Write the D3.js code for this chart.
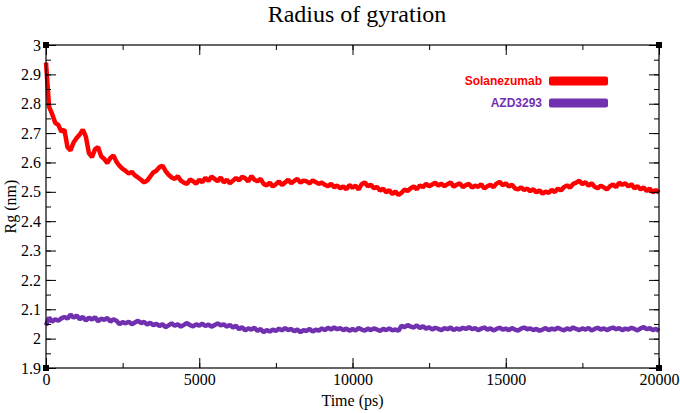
<!DOCTYPE html>
<html>
<head>
<meta charset="utf-8">
<script src="https://cdn.jsdelivr.net/npm/d3@7"></script>
<style>
  body { margin: 0; background: #fff; }
  svg { display: block; }
  .tick text { font-family: "Liberation Serif", "Times New Roman", serif; font-size: 16px; fill: #000; }
  .tick line { stroke: #000; stroke-width: 1; }
  .axis-label { font-family: "Liberation Serif", "Times New Roman", serif; font-size: 16px; fill: #000; }
  .chart-title { font-family: "Liberation Serif", "Times New Roman", serif; font-size: 24px; fill: #000; }
  .legend-label { font-family: "Liberation Sans", Arial, sans-serif; font-size: 12px; font-weight: bold; }
</style>
</head>
<body>
<svg id="chart" width="680" height="413"></svg>
<script>
// Rg 随时间变化：两条轨迹，每 100 ps 取一个读数

const timeStep = 100; // ps
const xTicks = [0, 5000, 10000, 15000, 20000];
const yTicks = [1.9, 2, 2.1, 2.2, 2.3, 2.4, 2.5, 2.6, 2.7, 2.8, 2.9, 3];

const seriesNames = ['Solanezumab', 'AZD3293'];
const seriesColors = ['#ff0000', '#7030b0'];

const solanezumabRg = [
  2.94, 2.79, 2.765, 2.735, 2.728, 2.705, 2.712, 2.652, 2.641, 2.668,
  2.683, 2.695, 2.712, 2.688, 2.632, 2.618, 2.645, 2.652, 2.621, 2.612,
  2.598, 2.615, 2.624, 2.602, 2.588, 2.578, 2.571, 2.562, 2.568, 2.556,
  2.549, 2.541, 2.532, 2.538, 2.552, 2.566, 2.572, 2.584, 2.589, 2.571,
  2.558, 2.549, 2.544, 2.553, 2.538, 2.531, 2.527, 2.542, 2.536, 2.528,
  2.541, 2.533, 2.548, 2.537, 2.552, 2.544, 2.536, 2.549, 2.532, 2.541,
  2.529, 2.538, 2.547, 2.539, 2.551, 2.546, 2.535, 2.554, 2.541, 2.536,
  2.544, 2.527, 2.522, 2.531, 2.518, 2.526, 2.535, 2.523, 2.532, 2.541,
  2.529, 2.537, 2.544, 2.531, 2.538, 2.536, 2.529, 2.539, 2.533, 2.527,
  2.531, 2.524, 2.519, 2.527, 2.516, 2.521, 2.512, 2.518, 2.509, 2.523,
  2.514, 2.521, 2.508, 2.526, 2.532, 2.519, 2.524, 2.512, 2.517, 2.504,
  2.511, 2.498, 2.506, 2.492, 2.501, 2.489, 2.497, 2.508, 2.503, 2.512,
  2.518, 2.509, 2.522, 2.516, 2.527, 2.519, 2.525, 2.531, 2.521, 2.528,
  2.519, 2.526, 2.532, 2.518, 2.524, 2.529, 2.516, 2.523, 2.527, 2.514,
  2.521, 2.517, 2.526, 2.511, 2.519, 2.524, 2.516, 2.528, 2.534, 2.522,
  2.529, 2.518, 2.524, 2.512, 2.508, 2.515, 2.506, 2.511, 2.502, 2.509,
  2.498, 2.505, 2.494, 2.501, 2.496, 2.507, 2.499, 2.511, 2.505, 2.516,
  2.522, 2.514, 2.527, 2.531, 2.538, 2.526, 2.533, 2.521, 2.529, 2.517,
  2.512, 2.521, 2.515, 2.508, 2.519, 2.525, 2.516, 2.531, 2.524, 2.529,
  2.518, 2.526, 2.512, 2.519, 2.508, 2.515, 2.503, 2.511, 2.498, 2.506, 2.497,
];

const azd3293Rg = [
  2.045, 2.072, 2.058, 2.066, 2.061, 2.069, 2.074, 2.068, 2.082, 2.071,
  2.079, 2.066, 2.074, 2.062, 2.071, 2.065, 2.073, 2.059, 2.068, 2.064,
  2.071, 2.058, 2.066, 2.061, 2.049, 2.056, 2.052, 2.058, 2.049, 2.055,
  2.061, 2.053, 2.057, 2.048, 2.054, 2.046, 2.051, 2.043, 2.049, 2.039,
  2.045, 2.052, 2.044, 2.049, 2.041, 2.047, 2.053, 2.046, 2.042, 2.049,
  2.044, 2.051, 2.043, 2.048, 2.041, 2.046, 2.052, 2.045, 2.049, 2.041,
  2.047, 2.038, 2.044, 2.032, 2.039, 2.028, 2.035, 2.031, 2.037, 2.026,
  2.033, 2.022, 2.029, 2.024, 2.031, 2.026, 2.034, 2.028, 2.036, 2.029,
  2.033, 2.025, 2.031, 2.022, 2.029, 2.026, 2.033, 2.024, 2.031, 2.027,
  2.035, 2.029, 2.037, 2.031, 2.038, 2.032, 2.036, 2.029, 2.034, 2.027,
  2.033, 2.028, 2.036, 2.031, 2.027, 2.034, 2.029, 2.035, 2.031, 2.026,
  2.033, 2.029, 2.035, 2.028, 2.031, 2.027, 2.044, 2.039, 2.046, 2.041,
  2.038, 2.045, 2.036, 2.042, 2.034, 2.039, 2.031, 2.037, 2.033, 2.029,
  2.036, 2.032, 2.038, 2.029, 2.035, 2.031, 2.037, 2.033, 2.039, 2.032,
  2.036, 2.029, 2.034, 2.038, 2.031, 2.035, 2.028, 2.033, 2.037, 2.031,
  2.034, 2.029, 2.036, 2.031, 2.027, 2.034, 2.038, 2.032, 2.035, 2.029,
  2.033, 2.027, 2.031, 2.036, 2.029, 2.034, 2.031, 2.037, 2.032, 2.028,
  2.035, 2.031, 2.038, 2.033, 2.029, 2.035, 2.031, 2.036, 2.028, 2.033,
  2.037, 2.031, 2.035, 2.029, 2.034, 2.038, 2.032, 2.036, 2.029, 2.034,
  2.031, 2.037, 2.033, 2.028, 2.035, 2.039, 2.032, 2.036, 2.029, 2.033, 2.026,
];

const margin = { top: 45, right: 21, bottom: 45, left: 46 };
const svg = d3.select('#chart');
const width = +svg.attr('width') - margin.left - margin.right;
const height = +svg.attr('height') - margin.top - margin.bottom;

const xScale = d3.scaleLinear().domain([0, 20000]).range([0, width]);
const yScale = d3.scaleLinear().domain([1.9, 3]).range([height, 0]);

const g = svg.append('g').attr('transform', `translate(${margin.left},${margin.top})`);

// 数据线：原图轨迹很密，用较粗的线模拟那条“带子”
const line = d3.line()
  .x((d, i) => xScale(i * timeStep))
  .y((d) => yScale(d));

[solanezumabRg, azd3293Rg].forEach((values, i) => {
  g.append('path')
    .datum(values)
    .attr('fill', 'none')
    .attr('stroke', seriesColors[i])
    .attr('stroke-width', 4.5)
    .attr('stroke-linejoin', 'bevel')
    .attr('d', line);
});

// 坐标轴：刻度朝内，四边都有，另配次刻度
const xMinor = d3.range(0, 20001, 2500);
const yMinor = d3.range(0, 23).map((k) => 1.9 + k * 0.05);

function styleAxis(sel) {
  sel.select('.domain').remove();
}

g.append('g')
  .attr('transform', `translate(0,${height})`)
  .call(d3.axisBottom(xScale).tickValues(xMinor).tickSize(-5).tickFormat(''))
  .call(styleAxis);
g.append('g')
  .attr('transform', `translate(0,${height})`)
  .call(d3.axisBottom(xScale).tickValues(xTicks).tickSize(-10).tickPadding(6).tickFormat(d3.format('d')))
  .call(styleAxis);

g.append('g')
  .call(d3.axisTop(xScale).tickValues(xMinor).tickSize(-5).tickFormat(''))
  .call(styleAxis);
g.append('g')
  .call(d3.axisTop(xScale).tickValues(xTicks).tickSize(-10).tickFormat(''))
  .call(styleAxis);

g.append('g')
  .call(d3.axisLeft(yScale).tickValues(yMinor).tickSize(-5).tickFormat(''))
  .call(styleAxis);
g.append('g')
  .call(d3.axisLeft(yScale).tickValues(yTicks).tickSize(-10).tickPadding(5).tickFormat(d3.format('~g')))
  .call(styleAxis);

g.append('g')
  .attr('transform', `translate(${width},0)`)
  .call(d3.axisRight(yScale).tickValues(yMinor).tickSize(-5).tickFormat(''))
  .call(styleAxis);
g.append('g')
  .attr('transform', `translate(${width},0)`)
  .call(d3.axisRight(yScale).tickValues(yTicks).tickSize(-10).tickFormat(''))
  .call(styleAxis);

// 外框与四角小方块
g.append('rect')
  .attr('width', width)
  .attr('height', height)
  .attr('fill', 'none')
  .attr('stroke', '#000')
  .attr('stroke-width', 1.2);

g.selectAll('.corner')
  .data([[0, 0], [width, 0], [0, height], [width, height]])
  .join('rect')
  .attr('class', 'corner')
  .attr('x', (d) => d[0] - 3)
  .attr('y', (d) => d[1] - 3)
  .attr('width', 6)
  .attr('height', 6)
  .attr('fill', '#000');

// 标题与轴标题
svg.append('text')
  .attr('class', 'chart-title')
  .attr('x', 357)
  .attr('y', 22)
  .attr('text-anchor', 'middle')
  .text('Radius of gyration');

svg.append('text')
  .attr('class', 'axis-label')
  .attr('x', margin.left + width / 2)
  .attr('y', 406)
  .attr('text-anchor', 'middle')
  .text('Time (ps)');

svg.append('text')
  .attr('class', 'axis-label')
  .attr('transform', 'rotate(-90)')
  .attr('x', -(margin.top + height / 2))
  .attr('y', 16)
  .attr('text-anchor', 'middle')
  .text('Rg (nm)');

// 图例
const legend = g.append('g');
seriesNames.forEach((name, i) => {
  const y = 36 + i * 22;
  legend.append('text')
    .attr('class', 'legend-label')
    .attr('x', 496)
    .attr('y', y)
    .attr('dy', '0.35em')
    .attr('text-anchor', 'end')
    .attr('fill', seriesColors[i])
    .text(name);
  legend.append('rect')
    .attr('x', 503)
    .attr('y', y - 4.5)
    .attr('width', 59)
    .attr('height', 9)
    .attr('rx', 2)
    .attr('fill', seriesColors[i]);
});
</script>
</body>
</html>
